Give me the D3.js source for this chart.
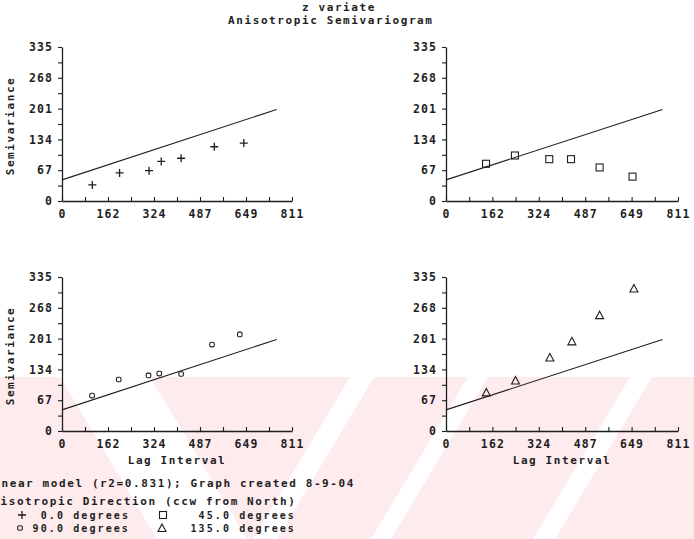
<!DOCTYPE html>
<html>
<head>
<meta charset="utf-8">
<script src="https://cdn.jsdelivr.net/npm/d3@7"></script>
<style>
  html, body { margin: 0; padding: 0; background: #fff; }
  svg { display: block; }
  text { font-family: "DejaVu Sans Mono", "Liberation Mono", monospace; font-weight: bold; fill: #1e1e1e; }
</style>
</head>
<body>
<svg id="chart" width="694" height="539"></svg>
<script>
// ---------------- data ----------------
const titleLines = ["z variate", "Anisotropic Semivariogram"];
const lagTicks = [0, 162, 324, 487, 649, 811];
const semiTicks = [0, 67, 134, 201, 268, 335];
const lagMax = 811;
const semiMax = 335;

// linear model (same in every direction)
const modelLag = [0, 757];
const modelSemi = [46, 199];

// 0 degrees (+)
const lag0 = [107, 203, 307, 350, 420, 537, 641];
const semi0 = [35, 61, 66, 86, 93, 118, 126];
// 45 degrees (square)
const lag45 = [140, 241, 361, 437, 537, 652];
const semi45 = [81, 99, 91, 91, 73, 53];
// 90 degrees (small circle)
const lag90 = [106, 200, 305, 343, 420, 529, 627];
const semi90 = [77, 112, 121, 125, 124, 188, 210];
// 135 degrees (triangle)
const lag135 = [141, 243, 363, 440, 537, 657];
const semi135 = [84, 110, 160, 195, 252, 310];

const directions = ["0.0", "45.0", "90.0", "135.0"];
const footnote = "Linear model (r2=0.831); Graph created 8-9-04";
const legendTitle = "Anisotropic Direction (ccw from North)";

// ---------------- layout ----------------
const svg = d3.select("#chart");
const ink = "#1e1e1e";

// watermark (light pink diagonal stripes in the lower part of the scan)
const wm = svg.append("g");
wm.append("rect").attr("x", 0).attr("y", 377).attr("width", 694).attr("height", 162).attr("fill", "#fdebee");
const whiteBands = [
  [[60, 377], [150, 377], [247, 539], [157, 539]],
  [[350, 377], [374, 377], [277, 539], [253, 539]],
  [[468, 377], [488, 377], [391, 539], [371, 539]],
  [[630, 377], [652, 377], [555, 539], [533, 539]]
];
wm.selectAll("polygon").data(whiteBands).join("polygon")
  .attr("points", d => d.map(p => p.join(",")).join(" "))
  .attr("fill", "#fff");

const panels = [
  { lag: lag0, semi: semi0, sym: "plus", x0: 62, x1: 292, y0: 201, y1: 47, ylab: true, xlab: false },
  { lag: lag45, semi: semi45, sym: "square", x0: 446, x1: 678, y0: 201, y1: 47, ylab: false, xlab: false },
  { lag: lag90, semi: semi90, sym: "circle", x0: 62, x1: 292, y0: 431, y1: 277, ylab: true, xlab: true },
  { lag: lag135, semi: semi135, sym: "triangle", x0: 446, x1: 678, y0: 431, y1: 277, ylab: false, xlab: true }
];

function drawSymbol(g, type, x, y) {
  if (type === "plus") {
    g.append("path").attr("d", `M${x-4},${y}H${x+4}M${x},${y-4}V${y+4}`)
      .attr("stroke", ink).attr("stroke-width", 1.3).attr("fill", "none");
  } else if (type === "square") {
    g.append("rect").attr("x", x-3.5).attr("y", y-3.5).attr("width", 7).attr("height", 7)
      .attr("stroke", ink).attr("stroke-width", 1.1).attr("fill", "none");
  } else if (type === "circle") {
    g.append("rect").attr("x", x-2.3).attr("y", y-2.3).attr("width", 4.6).attr("height", 4.6).attr("rx", 1.5)
      .attr("stroke", ink).attr("stroke-width", 1.1).attr("fill", "none");
  } else if (type === "triangle") {
    g.append("path").attr("d", `M${x},${y-4}L${x+4},${y+3.5}L${x-4},${y+3.5}Z`)
      .attr("stroke", ink).attr("stroke-width", 1.1).attr("fill", "none");
  }
}

const minorLag = d3.range(0, 11).map(i => i * lagMax / 10);
const minorSemi = d3.range(0, 11).map(i => i * semiMax / 10);

panels.forEach(p => {
  const x = d3.scaleLinear().domain([0, lagMax]).range([p.x0, p.x1]);
  const y = d3.scaleLinear().domain([0, semiMax]).range([p.y0, p.y1]);
  const g = svg.append("g");

  const xa = g.append("g").attr("transform", `translate(0,${p.y0})`)
    .call(d3.axisBottom(x).tickValues(minorLag).tickSizeInner(-4).tickSizeOuter(0).tickPadding(9)
      .tickFormat((d, i) => i % 2 === 0 ? lagTicks[i / 2] : ""));
  const ya = g.append("g").attr("transform", `translate(${p.x0},0)`)
    .call(d3.axisLeft(y).tickValues(minorSemi).tickSizeInner(4).tickSizeOuter(0).tickPadding(5)
      .tickFormat((d, i) => i % 2 === 0 ? semiTicks[i / 2] : ""));
  [xa, ya].forEach(a => {
    a.select(".domain").attr("stroke", ink).attr("stroke-width", 1.3);
    a.selectAll(".tick line").attr("stroke", ink).attr("stroke-width", 1.1);
    a.selectAll(".tick text").attr("font-size", 11.5).attr("letter-spacing", 1.1).attr("fill", ink)
      .style("font-family", "'DejaVu Sans Mono', monospace");
  });

  const line = d3.line().x(d => x(d[0])).y(d => y(d[1]));
  g.append("path").datum(modelLag.map((l, i) => [l, modelSemi[i]]))
    .attr("d", line).attr("stroke", ink).attr("stroke-width", 1.1).attr("fill", "none");

  p.lag.forEach((l, i) => drawSymbol(g, p.sym, x(l), y(p.semi[i])));

  if (p.ylab) {
    g.append("text").attr("transform", `translate(14,${(p.y0 + p.y1) / 2 + 2}) rotate(-90)`)
      .attr("text-anchor", "middle").attr("font-size", 11).attr("letter-spacing", 1.6)
      .text("Semivariance");
  }
  if (p.xlab) {
    g.append("text").attr("x", (p.x0 + p.x1) / 2).attr("y", p.y0 + 33)
      .attr("text-anchor", "middle").attr("font-size", 11).attr("letter-spacing", 1.6)
      .text("Lag Interval");
  }
});

// title
svg.append("text").attr("x", 302).attr("y", 11).attr("font-size", 11).attr("letter-spacing", 1.6).text(titleLines[0]);
svg.append("text").attr("x", 228).attr("y", 24).attr("font-size", 11).attr("letter-spacing", 1.6).text(titleLines[1]);

// footnote and legend (the scan cuts off the first letters at the left edge)
svg.append("text").attr("x", -15).attr("y", 487).attr("font-size", 11).attr("letter-spacing", 1.6).text(footnote);
svg.append("text").attr("x", -16).attr("y", 505).attr("font-size", 11).attr("letter-spacing", 1.6).text(legendTitle);

const legendRows = [
  { sym: "plus", sx: 22, label: directions[0] + " degrees", tx: 130, y: 515 },
  { sym: "square", sx: 163, label: directions[1] + " degrees", tx: 296, y: 515 },
  { sym: "circle", sx: 20, label: directions[2] + " degrees", tx: 130, y: 528 },
  { sym: "triangle", sx: 162, label: directions[3] + " degrees", tx: 296, y: 528 }
];
legendRows.forEach(r => {
  drawSymbol(svg, r.sym, r.sx, r.y);
  svg.append("text").attr("x", r.tx).attr("y", r.y + 3.5).attr("text-anchor", "end")
    .attr("font-size", 10).attr("letter-spacing", 2.1).text(r.label);
});
</script>
</body>
</html>
